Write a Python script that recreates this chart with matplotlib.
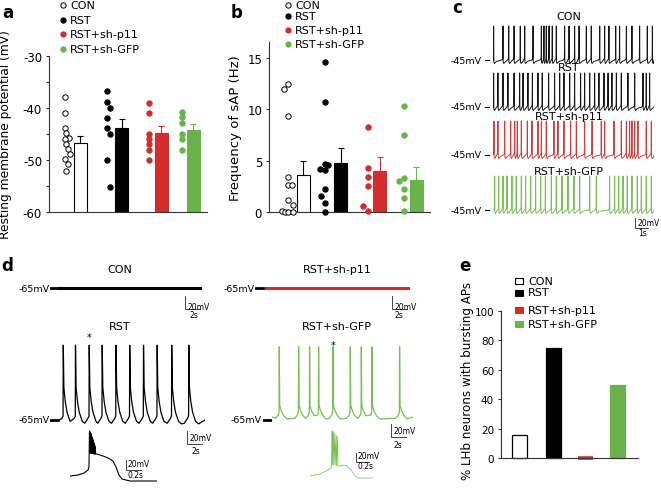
import numpy as np
import matplotlib.pyplot as plt
from matplotlib.lines import Line2D
from matplotlib.patches import Rectangle

plt.rcParams['font.family'] = 'DejaVu Sans'
plt.rcParams['axes.unicode_minus'] = False

W, H = 661, 489
RED = '#d42c2c'
GREEN = '#6cb24a'
groups = ['CON', 'RST', 'RST+sh-p11', 'RST+sh-GFP']
fill_cols = ['white', 'black', RED, GREEN]
edge_cols = ['black', 'black', RED, GREEN]

# ---- panel a: resting membrane potential (mV)
rmp_con = [-37.9, -41.0, -43.9, -44.9, -45.8, -46.0, -47.0, -47.9, -48.9, -49.9, -50.8, -52.1]
rmp_rst = [-36.8, -38.9, -40.0, -41.9, -43.9, -45.0, -50.0, -55.1]
rmp_p11 = [-39.0, -41.0, -45.0, -46.0, -47.0, -48.0, -50.0]
rmp_gfp = [-40.8, -41.8, -42.9, -45.0, -46.0, -48.0]
rmp_mean = [-46.7, -43.8, -44.9, -44.2]
rmp_sem = [1.3, 1.6, 1.4, 1.2]

# ---- panel b: frequency of sAP (Hz)
sap_con = [12.0, 12.5, 9.3, 3.4, 2.6, 2.6, 1.2, 0.7, 0.1, 0.0, 0.0, 0.0]
sap_rst = [14.6, 10.7, 4.7, 4.6, 4.2, 4.1, 2.2, 1.6, 0.9, 0.0]
sap_p11 = [8.3, 4.3, 3.4, 2.5, 0.6, 0.1]
sap_gfp = [10.3, 7.5, 3.3, 3.0, 2.2, 1.4, 0.1]
sap_mean = [3.64, 4.75, 4.03, 3.15]
sap_sem = [1.3, 1.45, 1.3, 1.2]

# ---- panel e: % neurons with bursting APs
burst_pct = [15.4, 75.0, 0.0, 50.0]

# ---- panel c: spike times (s)
c_con = [0.05, 0.77, 1.21, 1.62, 2.10, 2.44, 3.08, 3.72, 3.92, 4.10, 4.31, 4.56, 4.87, 5.51, 5.85,
         6.28, 6.62, 7.18, 7.56, 8.21, 8.59, 8.92, 9.44, 9.74, 10.26, 10.69, 11.28, 11.87, 12.26]
c_rst = [0.05, 0.38, 0.77, 1.15, 1.62, 2.05, 2.31, 2.69, 3.03, 3.46, 3.79, 4.28, 4.74, 5.13, 5.46,
         5.90, 6.28, 6.74, 7.05, 7.44, 7.82, 8.15, 8.54, 8.85, 9.15, 9.49, 9.87, 10.38, 10.90,
         11.54, 11.79, 12.05]
c_p11 = [0.08, 0.38, 0.90, 1.36, 1.67, 1.87, 2.18, 2.64, 3.00, 3.46, 3.72, 4.10, 4.69, 5.00, 5.46,
         5.97, 6.41, 7.05, 7.62, 8.33, 8.59, 9.31, 9.87, 10.26, 10.51, 10.69, 10.90, 11.15, 11.79, 12.18]
c_gfp = [0.13, 0.44, 0.77, 1.08, 1.46, 1.79, 2.18, 2.51, 2.90, 3.28, 3.67, 4.03, 4.49, 4.87, 5.31,
         5.77, 6.23, 6.67, 7.44, 7.95, 8.97, 9.36, 9.67, 10.00, 10.33, 10.69, 11.10, 11.41, 11.79, 12.18]
c_shape_t = [-0.1, -0.02, 0.0, 0.015, 0.06, 0.2]
c_shape_v = [0, 3, 68, -4, -7, -3]

# ---- panel d: burst times (s) and waveforms
d_rst = [0.57, 2.2, 4.03, 5.76, 7.6, 9.43, 11.27, 13.09, 15.03, 17.31]
d_gfp = [0.97, 3.55, 5.01, 6.21, 8.13, 10.44, 11.91, 13.33, 17.01]
d_rst_shape_t = [-0.6, -0.2, -0.03, 0.0, 0.08, 0.27, 0.5, 0.9, 1.3]
d_rst_shape_v = [-5, 2, 6, 115, 50, 28, 12, -2, -6]
d_gfp_shape_t = [-0.5, -0.15, -0.03, 0.0, 0.06, 0.25, 0.6, 1.0]
d_gfp_shape_v = [-2, 3, 8, 108, 18, 10, 2, -3]

# insets: slow envelope before / after the burst, and the spikes in the burst
ins_rst_pre_t = [0, 0.107, 0.187, 0.24, 0.253]
ins_rst_pre_v = [0, 2, 6, 12, 18]
ins_rst_spk_t = [0.260, 0.269, 0.277, 0.286, 0.295, 0.303, 0.312, 0.321, 0.329, 0.338]
ins_rst_spk_peak = [90, 88, 86, 82, 78, 74, 70, 66, 62, 58]
ins_rst_spk_low = [46, 46, 46, 45, 45, 45, 44, 44, 44, 44]
ins_rst_post_t = [0.356, 0.44, 0.507, 0.573, 0.613, 0.653, 0.693, 0.8, 1.16]
ins_rst_post_v = [44, 40, 36, 30, 18, 2, -6, -10, -10]

ins_gfp_pre_t = [0, 0.158, 0.253, 0.316, 0.34]
ins_gfp_pre_v = [0, 4.4, 11, 15.4, 19.8]
ins_gfp_spk_t = [0.348, 0.37, 0.392, 0.414, 0.436]
ins_gfp_spk_peak = [99, 97, 95, 90, 86]
ins_gfp_spk_low = [24, 24, 24, 22, 22]
ins_gfp_post_t = [0.458, 0.521, 0.585, 0.648, 0.711, 0.774, 0.995]
ins_gfp_post_v = [22, 24, 22, 13, 0, -4.4, -4.4]

fig = plt.figure(figsize=(6.61, 4.89), dpi=100)


def px_rect(x0, y0, x1, y1):
    return [x0 / W, 1 - y1 / H, (x1 - x0) / W, (y1 - y0) / H]


def ftext(x, y, s, **kw):
    fig.text(x / W, 1 - y / H, s, **kw)


def fline(x0, x1, y, **kw):
    fig.add_artist(Line2D([x0 / W, x1 / W], [1 - y / H, 1 - y / H], transform=fig.transFigure, **kw))


def style_axes(ax, fs):
    for s in ['top', 'right']:
        ax.spines[s].set_visible(False)
    for s in ['left', 'bottom']:
        ax.spines[s].set_color('#333333')
        ax.spines[s].set_linewidth(0.8)
    ax.tick_params(axis='x', bottom=False, labelbottom=False)
    ax.tick_params(axis='y', which='both', length=2.5, width=0.8, pad=2.5, labelsize=fs, color='#333333')


def dot_bar(ax, pos, dots, jit, means, sems, bottom):
    for i in range(4):
        ax.bar(pos[i], means[i] - bottom, bottom=bottom, width=13, color=fill_cols[i],
               edgecolor=edge_cols[i], linewidth=0.8, zorder=2)
        ax.errorbar(pos[i], means[i], yerr=[[0], [sems[i]]], fmt='none', ecolor=edge_cols[i],
                    elinewidth=0.8, capsize=2.5, capthick=0.8, zorder=1)
        xs = [pos[i] + j for j in jit[i]]
        ax.scatter(xs, dots[i], s=15, facecolors=fill_cols[i], edgecolors=edge_cols[i],
                   linewidths=0.7, clip_on=False, zorder=3)


def legend_dots(xm, xt, rows, fs):
    for i, y in enumerate(rows):
        fig.add_artist(Line2D([xm / W], [1 - y / H], transform=fig.transFigure, marker='o',
                              markersize=3.8, markerfacecolor=fill_cols[i],
                              markeredgecolor=edge_cols[i], markeredgewidth=0.7, linestyle='none'))
        ftext(xt, y, groups[i], fontsize=fs, va='center')


# ================= panel a
ax_a = fig.add_axes(px_rect(49, 57, 207, 213))
pos_a = [31, 72.5, 112.3, 144.3]
jit_a = [[-15, -15, -15, -14, -11, -15, -14, -12, -10, -15, -12, -14],
         [-14.8, -14.8, -11.5, -14.8, -14.8, -11.5, -14.8, -11.5],
         [-12.3] * 7,
         [-11.6] * 6]
dot_bar(ax_a, pos_a, [rmp_con, rmp_rst, rmp_p11, rmp_gfp], jit_a, rmp_mean, rmp_sem, -60)
ax_a.set_xlim(0, 158)
ax_a.set_ylim(-60, -30)
ax_a.set_yticks([-60, -50, -40, -30])
ax_a.set_yticks([-55, -45, -35], minor=True)
style_axes(ax_a, 8.5)
ftext(6, 135, 'Resting membrane potential (mV)', rotation=90, ha='center', va='center', fontsize=8.8)
legend_dots(63, 70, [6, 21, 35, 50], 8)

# ================= panel b
ax_b = fig.add_axes(px_rect(269, 43, 430, 213))
pos_b = [34, 71.5, 110.7, 147.3]
jit_b = [[-19, -15.3, -15.3, -15.3, -15.3, -11.3, -15.3, -9.7, -20.7, -18, -14.7, -9.7],
         [-15.5, -15.5, -15.5, -12.2, -20.5, -15.5, -15.5, -19.5, -15.5, -15.5],
         [-12, -12, -12, -12, -17, -12],
         [-12, -12, -12, -17, -12, -12, -12]]
dot_bar(ax_b, pos_b, [sap_con, sap_rst, sap_p11, sap_gfp], jit_b, sap_mean, sap_sem, 0)
ax_b.set_xlim(0, 161)
ax_b.set_ylim(0, 16.55)
ax_b.set_yticks([0, 5, 10, 15])
style_axes(ax_b, 8.5)
ftext(236, 128, 'Frequency of sAP (Hz)', rotation=90, ha='center', va='center', fontsize=9.5)
legend_dots(288, 295, [6, 17, 31, 45], 8)

# ================= panel e
ax_e = fig.add_axes(px_rect(501, 312, 638, 459))
pos_e = [18.5, 52.5, 84.5, 116.5]
ax_e.bar(pos_e, burst_pct, width=15.5, color=fill_cols, edgecolor=edge_cols,
         linewidth=[0.9, 0.9, 2.6, 0.9], clip_on=False, zorder=2)
ax_e.set_xlim(0, 137)
ax_e.set_ylim(0, 100)
ax_e.set_yticks(range(0, 101, 20))
style_axes(ax_e, 7.5)
ftext(467, 381, '% LHb neurons with bursting APs', rotation=90, ha='center', va='center', fontsize=8.6)
for i, y in enumerate([282, 293.5, 311, 325]):
    fig.add_artist(Rectangle((515 / W, 1 - (y + 3) / H), 8 / W, 6 / H, transform=fig.transFigure,
                             facecolor=fill_cols[i], edgecolor=edge_cols[i], linewidth=0.8))
    ftext(528, y, groups[i], fontsize=8, va='center')


# ================= traces helpers
def trace_axes(x0, x1, base, spp, mpp, up, down):
    ax = fig.add_axes(px_rect(x0, base - up, x1, base + down))
    ax.set_xlim(0, (x1 - x0) * spp)
    ax.set_ylim(-down * mpp, up * mpp)
    ax.axis('off')
    return ax


def build_trace(spikes, tt, tv, t_end):
    pts = [(0.0, 0.0), (t_end, 0.0)]
    for i, s in enumerate(spikes):
        prv = spikes[i - 1] if i > 0 else -1e9
        nxt = spikes[i + 1] if i < len(spikes) - 1 else 1e9
        for dt, dv in zip(tt, tv):
            if dt < 0 and -dt > 0.35 * (s - prv):
                continue
            if dt > 0 and dt > 0.6 * (nxt - s):
                continue
            if 0 <= s + dt <= t_end:
                pts.append((s + dt, dv))
    pts.sort()
    t, v = zip(*pts)
    return t, v


def scale_bar(ax, x0, base, spp, mpp, xpx, ypx, dt, dv):
    t = (xpx - x0) * spp
    v = (base - ypx) * mpp
    ax.plot([t, t, t + dt], [v + dv, v, v], color='#444444', lw=0.7, clip_on=False)


# ================= panel c
c_x0, c_x1, c_spp, c_mpp = 493, 654, 1 / 13, 2.0
c_end = (c_x1 - c_x0) * c_spp
c_rows = [(c_con, 61, '#151515', 'CON', 17),
          (c_rst, 108, '#151515', 'RST', 68),
          (c_p11, 156, '#d83a3a', 'RST+sh-p11', 117),
          (c_gfp, 211, '#78be55', 'RST+sh-GFP', 172)]
for spikes, base, col, name, ty in c_rows:
    ax = trace_axes(c_x0, c_x1, base, c_spp, c_mpp, 40, 8)
    t, v = build_trace(spikes, c_shape_t, c_shape_v, c_end)
    ax.plot(t, v, color=col, lw=0.7)
    ftext(569, ty, name, ha='center', va='center', fontsize=8)
    ftext(482, base, '-45mV', ha='right', va='center', fontsize=6.8)
    fline(485, 489, base, color='black', lw=0.8)
    if name == 'RST+sh-GFP':
        scale_bar(ax, c_x0, base, c_spp, c_mpp, 635, 229, 1, 20)
ftext(638, 223.5, '20mV', fontsize=5.5, va='center')
ftext(638, 234, '1s', fontsize=5.5, va='center')

# ================= panel d
d_spp, d_mpp = 2 / 15, 20 / 13

ax = trace_axes(58, 202, 289, d_spp, d_mpp, 20, 10)
ax.plot([0, 144 * d_spp], [0, 0], color='black', lw=2.2)
scale_bar(ax, 58, 289, d_spp, d_mpp, 185, 310, 2, 20)
ftext(120, 270, 'CON', ha='center', va='center', fontsize=8)

ax = trace_axes(265, 410, 289, d_spp, d_mpp, 20, 10)
ax.plot([0, 145 * d_spp], [0, 0], color=RED, lw=2.2)
scale_bar(ax, 265, 289, d_spp, d_mpp, 392, 310, 2, 20)
ftext(337, 270, 'RST+sh-p11', ha='center', va='center', fontsize=8)

ax = trace_axes(59, 205, 421, d_spp, d_mpp, 80, 10)
t, v = build_trace(d_rst, d_rst_shape_t, d_rst_shape_v, 146 * d_spp)
ax.plot(t, v, color='black', lw=0.9)
scale_bar(ax, 59, 421, d_spp, d_mpp, 187, 445, 2, 20)
ftext(120, 327, 'RST', ha='center', va='center', fontsize=8)
ftext(89, 338, '*', ha='center', va='center', fontsize=7)

ax = trace_axes(272, 413, 418, d_spp, d_mpp, 80, 10)
t, v = build_trace(d_gfp, d_gfp_shape_t, d_gfp_shape_v, 141 * d_spp)
ax.plot(t, v, color='#78be55', lw=0.9)
scale_bar(ax, 272, 418, d_spp, d_mpp, 391, 438, 2, 20)
ftext(337, 327, 'RST+sh-GFP', ha='center', va='center', fontsize=8)
ftext(333, 346, '*', ha='center', va='center', fontsize=7)

for x, y in [(187, 307), (394, 307), (189, 439), (393, 432)]:
    ftext(x, y, '20mV', fontsize=5.5, va='center')
for x, y in [(189, 316), (394, 316), (191, 452), (393, 446)]:
    ftext(x, y, '2s', fontsize=5.5, va='center')

for xr, xd0, xd1, y in [(50, 51, 58, 289), (50, 51, 58, 421), (255, 256, 263, 289), (262, 264, 270, 421)]:
    ftext(xr, y, '-65mV', ha='right', va='center', fontsize=6.8)
    fline(xd0, xd1, y, color='black', lw=2.0)


def inset(x0, x1, spp, mpp, pre_t, pre_v, spk_t, peak, low, post_t, post_v, col, lw):
    ax = trace_axes(x0, x1, 477, spp, mpp, 50, 8)
    t = list(pre_t)
    v = list(pre_v)
    for s, p, q in zip(spk_t, peak, low):
        t += [s, s + 0.004]
        v += [p, q]
    t += list(post_t)
    v += list(post_v)
    ax.plot(t, v, color=col, lw=lw)
    return ax


ax = inset(70, 157, 0.2 / 15, 2.0, ins_rst_pre_t, ins_rst_pre_v, ins_rst_spk_t, ins_rst_spk_peak,
           ins_rst_spk_low, ins_rst_post_t, ins_rst_post_v, 'black', 0.8)
scale_bar(ax, 70, 477, 0.2 / 15, 2.0, 126, 471, 0.2, 20)
ftext(128, 465, '20mV', fontsize=5.5, va='center')
ftext(128, 476, '0.2s', fontsize=5.5, va='center')

ax = inset(310, 373, 0.2 / 12.7, 2.2, ins_gfp_pre_t, ins_gfp_pre_v, ins_gfp_spk_t, ins_gfp_spk_peak,
           ins_gfp_spk_low, ins_gfp_post_t, ins_gfp_post_v, '#78be55', 0.55)
scale_bar(ax, 310, 477, 0.2 / 12.7, 2.2, 356, 463, 0.2, 20)
ftext(358, 457, '20mV', fontsize=5.5, va='center')
ftext(358, 467, '0.2s', fontsize=5.5, va='center')

# ================= panel letters
for x, y, s in [(2, 18, 'a'), (231, 18, 'b'), (452, 13, 'c'), (1, 271, 'd'), (459, 271, 'e')]:
    ftext(x, y, s, fontsize=12, fontweight='bold', va='baseline')

fig.savefig('out.png', dpi=100)
